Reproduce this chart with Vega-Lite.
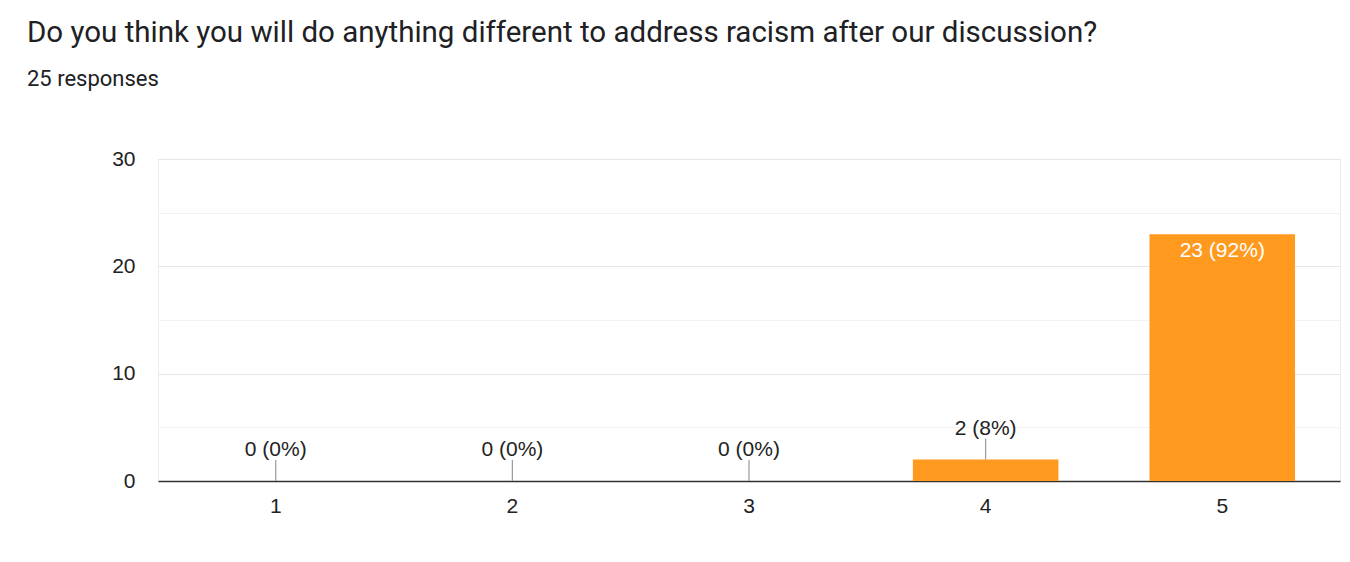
{
  "$schema": "https://vega.github.io/schema/vega-lite/v6.json",
  "autosize": "none",
  "width": 1182,
  "height": 322,
  "padding": {"left": 158, "top": 159, "right": 10, "bottom": 81},
  "background": "white",
  "config": {
    "view": {"stroke": "#ececec", "strokeWidth": 1},
    "font": "Liberation Sans"
  },
  "title": {
    "text": "Do you think you will do anything different to address racism after our discussion?",
    "subtitle": "25 responses",
    "anchor": "start",
    "frame": "group",
    "dx": -131,
    "offset": 57,
    "font": "Roboto",
    "fontSize": 29.5,
    "fontWeight": "normal",
    "color": "#202124",
    "subtitleFont": "Roboto",
    "subtitleFontSize": 22,
    "subtitleColor": "#202124",
    "subtitlePadding": 21
  },
  "data": {
    "values": [
      {"rating": "1", "count": 0, "label": "0 (0%)"},
      {"rating": "2", "count": 0, "label": "0 (0%)"},
      {"rating": "3", "count": 0, "label": "0 (0%)"},
      {"rating": "4", "count": 2, "label": "2 (8%)"},
      {"rating": "5", "count": 23, "label": "23 (92%)"}
    ]
  },
  "encoding": {
    "x": {
      "field": "rating",
      "type": "nominal",
      "sort": null,
      "scale": {"paddingInner": 0.385, "paddingOuter": 0.19},
      "axis": {
        "title": null,
        "labelAngle": 0,
        "ticks": false,
        "labelPadding": 14,
        "labelFontSize": 21,
        "labelColor": "#222222",
        "domainColor": "#333333",
        "domainWidth": 1.5,
        "grid": false
      }
    },
    "y": {
      "field": "count",
      "type": "quantitative",
      "scale": {"domain": [0, 30], "nice": false},
      "axis": {
        "title": null,
        "values": [0, 5, 10, 15, 20, 25, 30],
        "labelExpr": "datum.value % 10 === 0 ? datum.label : ''",
        "ticks": false,
        "domain": false,
        "labelPadding": 23,
        "labelFontSize": 21,
        "labelColor": "#222222",
        "gridColor": {"condition": {"test": "datum.value % 10 === 0", "value": "#e6e6e6"}, "value": "#f3f3f3"},
        "gridWidth": 1.2
      }
    }
  },
  "layer": [
    {
      "mark": {"type": "bar", "color": "#ff9a1f"}
    },
    {
      "transform": [{"filter": "datum.count < 10"}],
      "mark": {"type": "rule", "color": "#999999", "strokeWidth": 1.2, "y2Offset": -21},
      "encoding": {"y2": {"field": "count"}}
    },
    {
      "transform": [{"filter": "datum.count < 10"}],
      "mark": {"type": "text", "fontSize": 21, "baseline": "alphabetic", "dy": -25, "color": "#222222"},
      "encoding": {"text": {"field": "label"}}
    },
    {
      "transform": [{"filter": "datum.count >= 10"}],
      "mark": {"type": "text", "fontSize": 21, "baseline": "alphabetic", "dy": 23, "color": "#ffffff"},
      "encoding": {"text": {"field": "label"}}
    }
  ]
}
